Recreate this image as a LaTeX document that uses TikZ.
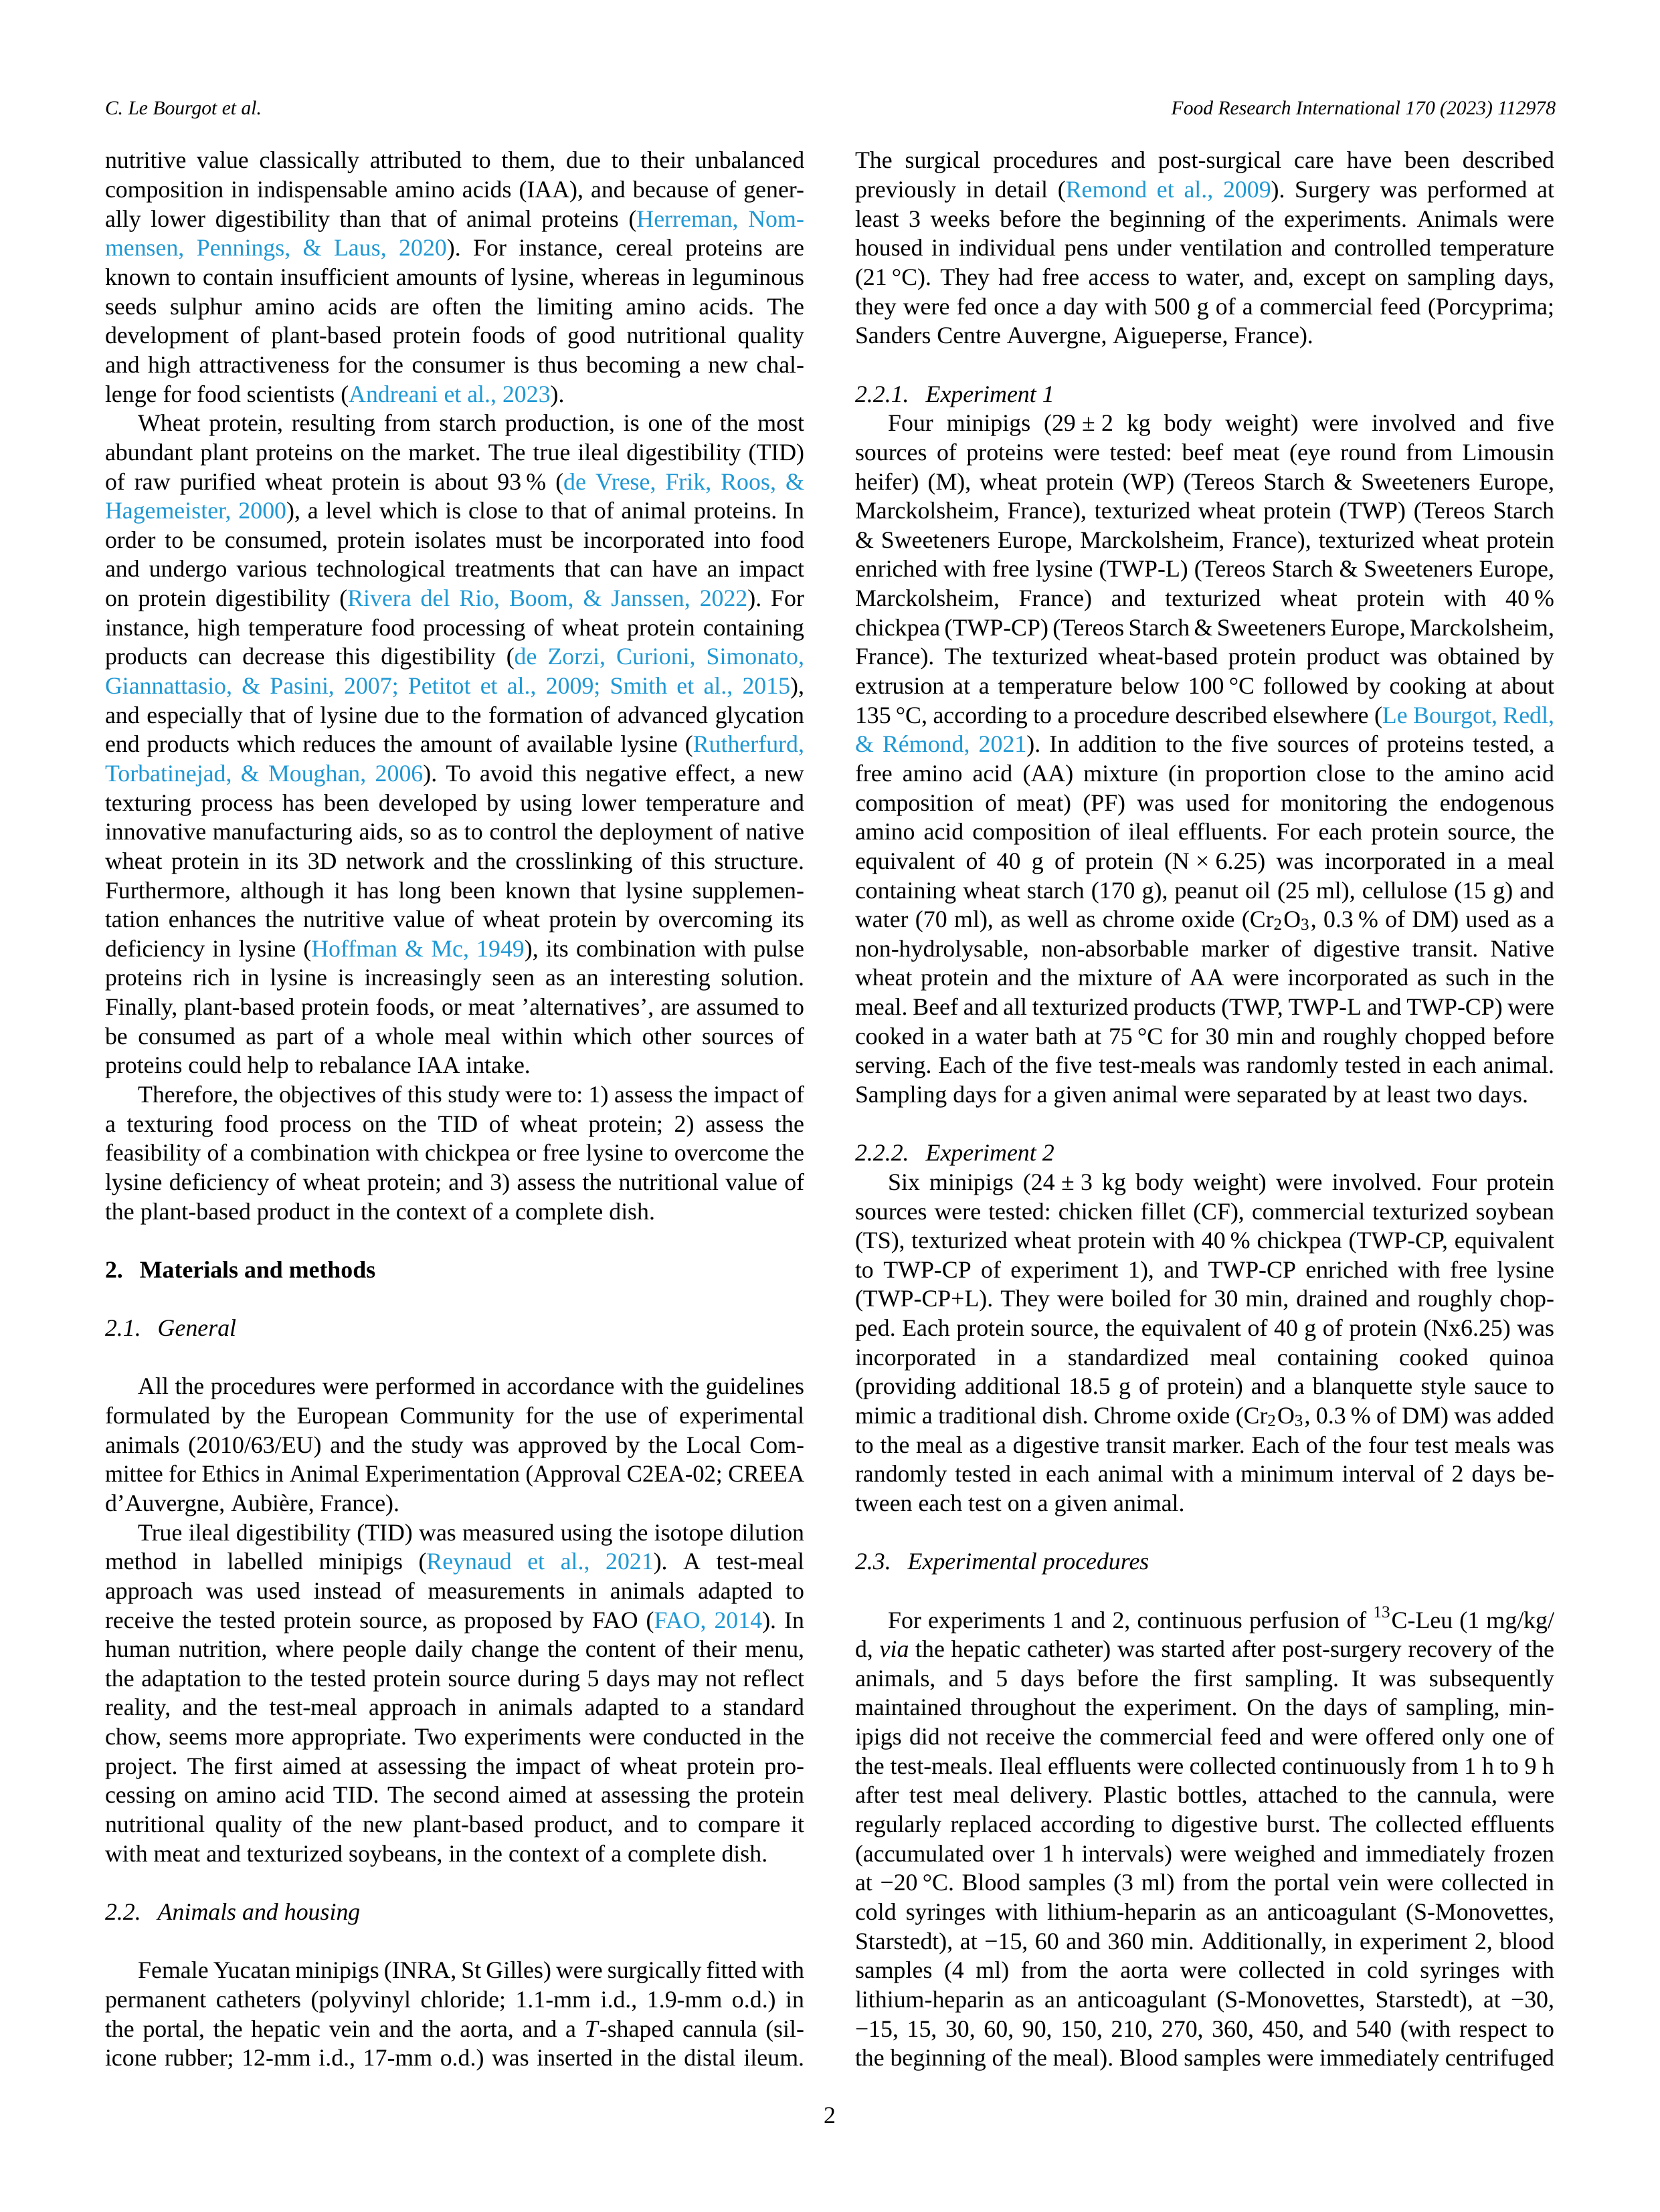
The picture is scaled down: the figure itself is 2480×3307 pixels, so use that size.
\documentclass[tikz,border=0pt]{standalone}
\usepackage{fontspec}
\setmainfont{Liberation Serif}
\usepackage{graphicx}
\usepackage{xcolor}
\definecolor{linkblue}{RGB}{30,152,212}
\newlength\colw
\setlength\colw{250.8pt}
\newlength\pind
\setlength\pind{11.8pt}
\newcommand\lk[1]{{\color{linkblue}#1}}
\newcommand\ts{\kern0.2em}
\newcommand\tw{\kern0.26em}
\newcommand\JL[1]{\setbox0=\hbox to\colw{#1}\ifnum\badness>10000\relax\hbox to\colw{\resizebox{\colw}{\height}{#1}}\else\box0\fi}
\newcommand\IL[1]{\JL{\hskip\pind #1}}
\newcommand\LL[1]{\hbox to\colw{#1\hfil}}
\newcommand\BL{\hbox{}}
\newcommand\colsetup{\fontsize{8.6}{10.474}\selectfont\baselineskip=10.474pt\lineskiplimit=-\maxdimen\lineskip=0pt\frenchspacing\hsize=\colw\hbadness=10000}
\tikzset{colnode/.style={anchor=base west,inner sep=0pt,outer sep=0pt},
  hdr/.style={inner sep=0pt,outer sep=0pt,font=\fontsize{7.1}{8.5}\selectfont\itshape}}
\begin{document}
\begin{tikzpicture}[x=0.24pt,y=-0.24pt]
\fill[white,use as bounding box] (0,0) rectangle (2480,3307);
\node[hdr,anchor=base west] (hdrl) at (157,172) {C. Le Bourgot et al.};
\node[hdr,anchor=base east] (hdrr) at (2325,172) {Food Research International 170 (2023) 112978};
\node[colnode] (leftcol) at (157,252) {\vtop{\colsetup
\JL{nutritive value classically attributed to them, due to their unbalanced}
\JL{composition in indispensable amino acids (IAA), and because of gener-}
\JL{ally lower digestibility than that of animal proteins (\lk{Herreman, Nom-}}
\JL{\lk{mensen, Pennings, \& Laus, 2020}). For instance, cereal proteins are}
\JL{known to contain insufficient amounts of lysine, whereas in leguminous}
\JL{seeds sulphur amino acids are often the limiting amino acids. The}
\JL{development of plant-based protein foods of good nutritional quality}
\JL{and high attractiveness for the consumer is thus becoming a new chal-}
\LL{lenge for food scientists (\lk{Andreani et al., 2023}).}
\IL{Wheat protein, resulting from starch production, is one of the most}
\JL{abundant plant proteins on the market. The true ileal digestibility (TID)}
\JL{of raw purified wheat protein is about 93\ts\% (\lk{de Vrese, Frik, Roos, \&}}
\JL{\lk{Hagemeister, 2000}), a level which is close to that of animal proteins. In}
\JL{order to be consumed, protein isolates must be incorporated into food}
\JL{and undergo various technological treatments that can have an impact}
\JL{on protein digestibility (\lk{Rivera del Rio, Boom, \& Janssen, 2022}). For}
\JL{instance, high temperature food processing of wheat protein containing}
\JL{products can decrease this digestibility (\lk{de Zorzi, Curioni, Simonato,}}
\JL{\lk{Giannattasio, \& Pasini, 2007; Petitot et al., 2009; Smith et al., 2015}),}
\JL{and especially that of lysine due to the formation of advanced glycation}
\JL{end products which reduces the amount of available lysine (\lk{Rutherfurd,}}
\JL{\lk{Torbatinejad, \& Moughan, 2006}). To avoid this negative effect, a new}
\JL{texturing process has been developed by using lower temperature and}
\JL{innovative manufacturing aids, so as to control the deployment of native}
\JL{wheat protein in its 3D network and the crosslinking of this structure.}
\JL{Furthermore, although it has long been known that lysine supplemen-}
\JL{tation enhances the nutritive value of wheat protein by overcoming its}
\JL{deficiency in lysine (\lk{Hoffman \& Mc, 1949}), its combination with pulse}
\JL{proteins rich in lysine is increasingly seen as an interesting solution.}
\JL{Finally, plant-based protein foods, or meat ’alternatives’, are assumed to}
\JL{be consumed as part of a whole meal within which other sources of}
\LL{proteins could help to rebalance IAA intake.}
\IL{Therefore, the objectives of this study were to: 1) assess the impact of}
\JL{a texturing food process on the TID of wheat protein; 2) assess the}
\JL{feasibility of a combination with chickpea or free lysine to overcome the}
\JL{lysine deficiency of wheat protein; and 3) assess the nutritional value of}
\LL{the plant-based product in the context of a complete dish.}
\BL
\LL{\textbf{2.\hskip6pt Materials and methods}}
\BL
\LL{\textit{2.1.\hskip6pt General}}
\BL
\IL{All the procedures were performed in accordance with the guidelines}
\JL{formulated by the European Community for the use of experimental}
\JL{animals (2010/63/EU) and the study was approved by the Local Com-}
\JL{mittee for Ethics in Animal Experimentation (Approval C2EA-02; CREEA}
\LL{d’Auvergne, Aubière, France).}
\IL{True ileal digestibility (TID) was measured using the isotope dilution}
\JL{method in labelled minipigs (\lk{Reynaud et al., 2021}). A test-meal}
\JL{approach was used instead of measurements in animals adapted to}
\JL{receive the tested protein source, as proposed by FAO (\lk{FAO, 2014}). In}
\JL{human nutrition, where people daily change the content of their menu,}
\JL{the adaptation to the tested protein source during 5 days may not reflect}
\JL{reality, and the test-meal approach in animals adapted to a standard}
\JL{chow, seems more appropriate. Two experiments were conducted in the}
\JL{project. The first aimed at assessing the impact of wheat protein pro-}
\JL{cessing on amino acid TID. The second aimed at assessing the protein}
\JL{nutritional quality of the new plant-based product, and to compare it}
\LL{with meat and texturized soybeans, in the context of a complete dish.}
\BL
\LL{\textit{2.2.\hskip6pt Animals and housing}}
\BL
\IL{Female Yucatan minipigs (INRA, St Gilles) were surgically fitted with}
\JL{permanent catheters (polyvinyl chloride; 1.1-mm i.d., 1.9-mm o.d.) in}
\JL{the portal, the hepatic vein and the aorta, and a \textit{T}-shaped cannula (sil-}
\JL{icone rubber; 12-mm i.d., 17-mm o.d.) was inserted in the distal ileum.}
}};
\node[colnode] (rightcol) at (1278,252) {\vtop{\colsetup
\JL{The surgical procedures and post-surgical care have been described}
\JL{previously in detail (\lk{Remond et al., 2009}). Surgery was performed at}
\JL{least 3 weeks before the beginning of the experiments. Animals were}
\JL{housed in individual pens under ventilation and controlled temperature}
\JL{(21\ts°C). They had free access to water, and, except on sampling days,}
\JL{they were fed once a day with 500 g of a commercial feed (Porcyprima;}
\LL{Sanders Centre Auvergne, Aigueperse, France).}
\BL
\LL{\textit{2.2.1.\hskip6pt Experiment 1}}
\IL{Four minipigs (29\tw±\tw2 kg body weight) were involved and five}
\JL{sources of proteins were tested: beef meat (eye round from Limousin}
\JL{heifer) (M), wheat protein (WP) (Tereos Starch \& Sweeteners Europe,}
\JL{Marckolsheim, France), texturized wheat protein (TWP) (Tereos Starch}
\JL{\& Sweeteners Europe, Marckolsheim, France), texturized wheat protein}
\JL{enriched with free lysine (TWP-L) (Tereos Starch \& Sweeteners Europe,}
\JL{Marckolsheim, France) and texturized wheat protein with 40\ts\%}
\JL{chickpea (TWP-CP) (Tereos Starch \& Sweeteners Europe, Marckolsheim,}
\JL{France). The texturized wheat-based protein product was obtained by}
\JL{extrusion at a temperature below 100\ts°C followed by cooking at about}
\JL{135\ts°C, according to a procedure described elsewhere (\lk{Le Bourgot, Redl,}}
\JL{\lk{\& Rémond, 2021}). In addition to the five sources of proteins tested, a}
\JL{free amino acid (AA) mixture (in proportion close to the amino acid}
\JL{composition of meat) (PF) was used for monitoring the endogenous}
\JL{amino acid composition of ileal effluents. For each protein source, the}
\JL{equivalent of 40 g of protein (N\tw×\tw6.25) was incorporated in a meal}
\JL{containing wheat starch (170 g), peanut oil (25 ml), cellulose (15 g) and}
\JL{water (70 ml), as well as chrome oxide (Cr\textsubscript{2}O\textsubscript{3}, 0.3\ts\% of DM) used as a}
\JL{non-hydrolysable, non-absorbable marker of digestive transit. Native}
\JL{wheat protein and the mixture of AA were incorporated as such in the}
\JL{meal. Beef and all texturized products (TWP, TWP-L and TWP-CP) were}
\JL{cooked in a water bath at 75\ts°C for 30 min and roughly chopped before}
\JL{serving. Each of the five test-meals was randomly tested in each animal.}
\LL{Sampling days for a given animal were separated by at least two days.}
\BL
\LL{\textit{2.2.2.\hskip6pt Experiment 2}}
\IL{Six minipigs (24\tw±\tw3 kg body weight) were involved. Four protein}
\JL{sources were tested: chicken fillet (CF), commercial texturized soybean}
\JL{(TS), texturized wheat protein with 40\ts\% chickpea (TWP-CP, equivalent}
\JL{to TWP-CP of experiment 1), and TWP-CP enriched with free lysine}
\JL{(TWP-CP+L). They were boiled for 30 min, drained and roughly chop-}
\JL{ped. Each protein source, the equivalent of 40 g of protein (Nx6.25) was}
\JL{incorporated in a standardized meal containing cooked quinoa}
\JL{(providing additional 18.5 g of protein) and a blanquette style sauce to}
\JL{mimic a traditional dish. Chrome oxide (Cr\textsubscript{2}O\textsubscript{3}, 0.3\ts\% of DM) was added}
\JL{to the meal as a digestive transit marker. Each of the four test meals was}
\JL{randomly tested in each animal with a minimum interval of 2 days be-}
\LL{tween each test on a given animal.}
\BL
\LL{\textit{2.3.\hskip6pt Experimental procedures}}
\BL
\IL{For experiments 1 and 2, continuous perfusion of \textsuperscript{13}C-Leu (1 mg/kg/}
\JL{d, \textit{via} the hepatic catheter) was started after post-surgery recovery of the}
\JL{animals, and 5 days before the first sampling. It was subsequently}
\JL{maintained throughout the experiment. On the days of sampling, min-}
\JL{ipigs did not receive the commercial feed and were offered only one of}
\JL{the test-meals. Ileal effluents were collected continuously from 1 h to 9 h}
\JL{after test meal delivery. Plastic bottles, attached to the cannula, were}
\JL{regularly replaced according to digestive burst. The collected effluents}
\JL{(accumulated over 1 h intervals) were weighed and immediately frozen}
\JL{at −20\ts°C. Blood samples (3 ml) from the portal vein were collected in}
\JL{cold syringes with lithium-heparin as an anticoagulant (S-Monovettes,}
\JL{Starstedt), at −15, 60 and 360 min. Additionally, in experiment 2, blood}
\JL{samples (4 ml) from the aorta were collected in cold syringes with}
\JL{lithium-heparin as an anticoagulant (S-Monovettes, Starstedt), at −30,}
\JL{−15, 15, 30, 60, 90, 150, 210, 270, 360, 450, and 540 (with respect to}
\JL{the beginning of the meal). Blood samples were immediately centrifuged}
}};
\node[inner sep=0pt,anchor=base,font=\fontsize{8.6}{10}\selectfont] (pagenum) at (1240,3174) {2};
\end{tikzpicture}
\end{document}
